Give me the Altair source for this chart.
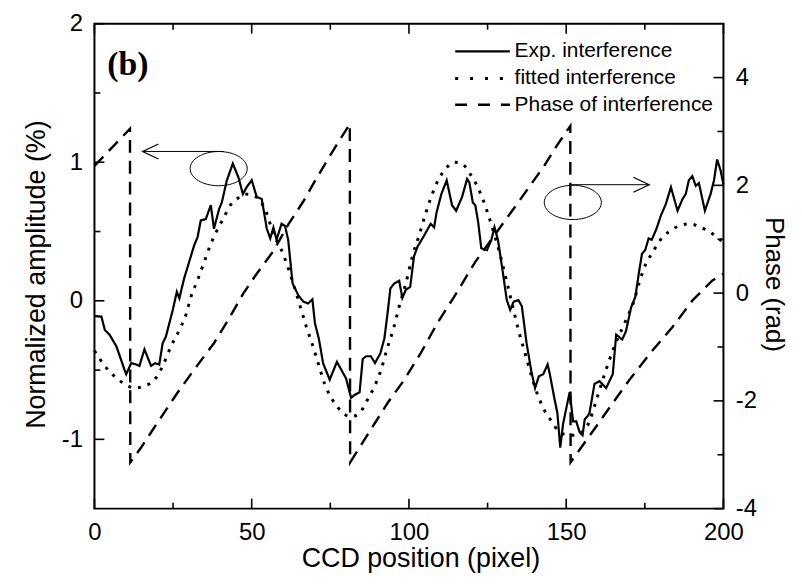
import altair as alt
import pandas as pd

# ---------------- data ----------------
exp_x = [0.0, 2.2, 3.3, 4.8, 7.0, 9.6, 10.1, 11.7, 13.3, 14.3, 15.9, 18.0, 19.3, 20.6,
         21.7, 22.7, 24.9, 26.2, 27.0, 28.5, 30.1, 31.7, 32.8, 33.8, 35.4, 37.0, 38.0,
         39.6, 40.5, 42.1, 44.0, 45.8, 47.2, 48.4, 50.0, 51.6, 53.2, 54.8, 55.9, 56.9,
         57.9, 59.5, 60.6, 61.6, 63.0, 64.8, 66.4, 67.9, 69.3, 70.1, 71.4, 72.7, 74.8,
         77.1, 79.0, 80.0, 81.6, 82.7, 84.3, 85.3, 86.4, 87.9, 89.2, 90.9, 92.2, 93.2,
         94.1, 95.3, 96.9, 97.9, 99.0, 100.4, 101.6, 102.7, 103.5, 104.8, 106.9, 108.0,
         108.8, 110.3, 112.0, 113.7, 115.0, 116.9, 118.5, 119.2, 120.3, 121.1, 122.0,
         123.0, 124.8, 126.2, 127.2, 128.3, 129.6, 131.1, 132.2, 133.3, 134.8, 135.9,
         137.4, 139.0, 140.1, 141.3, 142.7, 144.1, 144.8, 146.2, 147.2, 148.1, 149.0,
         150.4, 151.1, 152.2, 153.2, 154.3, 155.2, 155.9, 156.9, 157.4, 159.0, 160.6,
         162.7, 164.8, 165.9, 167.8, 169.0, 170.6, 172.0, 173.1, 174.1, 175.1, 176.2,
         177.2, 178.7, 180.1, 181.7, 183.3, 185.4, 187.0, 188.0, 189.0, 190.1, 191.2,
         192.2, 194.1, 195.9, 197.0, 198.0, 199.1, 200.0]
exp_y = [-0.11, -0.114, -0.21, -0.245, -0.33, -0.50, -0.53, -0.45, -0.46, -0.47, -0.35,
         -0.47, -0.45, -0.46, -0.305, -0.26, -0.066, 0.065, 0.018, 0.16, 0.28, 0.40, 0.46,
         0.58, 0.59, 0.69, 0.52, 0.66, 0.71, 0.87, 0.99, 0.89, 0.77, 0.82, 0.87, 0.75,
         0.735, 0.52, 0.45, 0.53, 0.44, 0.556, 0.54, 0.44, 0.125, 0.04, -0.006, -0.02,
         0.01, -0.16, -0.28, -0.45, -0.57, -0.44, -0.52, -0.56, -0.70, -0.68, -0.66,
         -0.42, -0.40, -0.40, -0.45, -0.38, -0.27, -0.09, 0.09, 0.125, 0.145, 0.02, 0.08,
         0.10, 0.32, 0.39, 0.42, 0.47, 0.556, 0.53, 0.64, 0.77, 0.87, 0.69, 0.65, 0.75,
         0.88, 0.855, 0.71, 0.69, 0.57, 0.38, 0.365, 0.44, 0.53, 0.44, 0.245, 0.006,
         -0.066, -0.006, 0.006, -0.04, -0.305, -0.52, -0.63, -0.545, -0.53, -0.46, -0.53,
         -0.70, -0.81, -1.06, -0.89, -0.735, -0.66, -0.87, -0.87, -0.95, -0.97, -0.855,
         -0.83, -0.81, -0.60, -0.58, -0.63, -0.53, -0.245, -0.28, -0.22, -0.05, 0.03,
         0.20, 0.34, 0.365, 0.45, 0.44, 0.52, 0.615, 0.70, 0.82, 0.65, 0.735, 0.77, 0.87,
         0.90, 0.83, 0.85, 0.65, 0.77, 0.87, 1.02, 0.94, 0.84]

fit_x = [0.0, 3.3, 6.4, 9.6, 12.7, 15.9, 19.1, 21.7, 24.3, 27.0, 29.1, 30.7, 32.8, 34.9,
         37.0, 39.0, 41.1, 43.2, 45.3, 47.9, 50.6, 52.7, 54.8, 56.9, 59.0, 61.1, 63.2,
         65.3, 67.4, 69.5, 71.4, 73.2, 75.3, 77.4, 79.5, 81.8, 84.3, 86.9, 89.0, 91.1,
         93.0, 95.1, 96.9, 99.0, 101.1, 103.2, 105.3, 107.4, 109.5, 111.6, 114.3, 116.9,
         119.0, 121.1, 123.2, 125.3, 127.4, 129.3, 131.1, 132.9, 134.8, 136.9, 139.0,
         141.1, 143.2, 145.3, 147.5, 149.5, 152.2, 154.8, 157.4, 159.0, 162.2, 165.3,
         169.0, 171.7, 173.2, 175.4, 177.5, 179.6, 182.7, 185.9, 189.0, 192.2, 195.4,
         198.5, 200.0]
fit_y = [-0.36, -0.47, -0.545, -0.60, -0.63, -0.615, -0.57, -0.47, -0.33, -0.21, -0.10,
         0.03, 0.15, 0.28, 0.41, 0.51, 0.60, 0.69, 0.735, 0.77, 0.76, 0.72, 0.63, 0.48,
         0.39, 0.27, 0.125, -0.03, -0.19, -0.33, -0.47, -0.60, -0.70, -0.77, -0.82,
         -0.836, -0.81, -0.71, -0.62, -0.50, -0.35, -0.20, -0.04, 0.125, 0.32, 0.47,
         0.63, 0.77, 0.88, 0.95, 1.00, 0.99, 0.93, 0.855, 0.75, 0.615, 0.46, 0.305,
         0.137, -0.03, -0.21, -0.377, -0.545, -0.69, -0.795, -0.867, -0.94, -0.963,
         -0.97, -0.95, -0.87, -0.76, -0.53, -0.33, -0.14, 0.01, 0.13, 0.27, 0.35, 0.43,
         0.50, 0.54, 0.556, 0.537, 0.50, 0.45, 0.42]

phase_x = [0.0, 11.3, 11.4, 14.9, 20.1, 26.4, 31.7, 38.0, 42.1, 47.4, 51.6, 56.9, 61.6,
           66.4, 70.6, 75.3, 81.2, 81.3, 87.9, 93.2, 98.5, 103.7, 109.0, 114.3, 121.1,
           127.4, 132.7, 138.0, 143.2, 147.5, 151.3, 151.4, 159.6, 164.8, 170.1, 177.5,
           183.8, 190.1, 196.4, 200.0]
phase_y = [2.36, 3.05, -3.14, -2.86, -2.40, -1.85, -1.42, -0.93, -0.54, 0.0, 0.36, 0.78,
           1.27, 1.70, 2.13, 2.59, 3.14, -3.14, -2.53, -2.04, -1.61, -1.12, -0.56,
           -0.075, 0.58, 1.09, 1.52, 1.95, 2.38, 2.78, 3.10, -3.14, -2.47, -2.04, -1.61,
           -1.06, -0.63, -0.14, 0.23, 0.36]

legend_labels = ["Exp. interference", "fitted interference", "Phase of interference"]

x_ticks_major = [0, 50, 100, 150, 200]
x_ticks_minor = [25, 75, 125, 175]
amp_ticks_major = [-1, 0, 1, 2]
amp_ticks_minor = [-0.5, 0.5, 1.5]
ph_ticks_major = [-4, -2, 0, 2, 4]
ph_ticks_minor = [-3, -1, 1, 3]

X_DOM = [0, 200]
AMP_DOM = [-1.5, 2]
PH_DOM = [-4, 5]

W, H = 633, 488
TICK_MAJ, TICK_MIN = 10, 6

# ---------------- frames ----------------
exp_df = pd.DataFrame({"x": exp_x, "y": exp_y})
fit_df = pd.DataFrame({"x": fit_x, "y": fit_y})
ph_df = pd.DataFrame({"x": phase_x, "y": phase_y, "idx": list(range(len(phase_x)))})

leg_df = pd.DataFrame({"label": legend_labels, "x0": [114.7] * 3, "x1": [132.1] * 3,
                       "tx": [133.6] * 3, "y": [1.80, 1.605, 1.415]})
ell_df = pd.DataFrame({"x": [39.5, 152.1], "y": [0.954, 0.71]})
arr_df = pd.DataFrame({"x0": [41.1, 151.1], "x1": [15.3, 176.4], "y": [1.078, 0.838],
                       "dir": ["l", "r"]})
lab_df = pd.DataFrame({"x": [4.1], "y": [1.70], "t": ["(b)"]})

FONT = "Liberation Sans"
xs = alt.Scale(domain=X_DOM, nice=False, zero=False)
amp_s = alt.Scale(domain=AMP_DOM, nice=False, zero=False)
ph_s = alt.Scale(domain=PH_DOM, nice=False, zero=False)
HYPHEN_LABEL = "'' + datum.value"

x_lab_axis = alt.Axis(orient="bottom", values=x_ticks_major, ticks=False, tickSize=0,
                      domain=False, grid=False, labelPadding=12, labelFlush=False,
                      labelFontSize=24, labelFont=FONT, labelColor="black",
                      title="CCD position (pixel)", titleFontSize=27, titleFont=FONT,
                      titleFontWeight="normal", titleColor="black", titlePadding=1,
                      titleX=328)
amp_lab_axis = alt.Axis(orient="left", values=amp_ticks_major, ticks=False, tickSize=0,
                        domain=False, grid=False, labelPadding=12, labelFontSize=24,
                        labelFont=FONT, labelColor="black", labelExpr=HYPHEN_LABEL,
                        title="Normalized amplitude (%)", titleFontSize=27,
                        titleFont=FONT, titleFontWeight="normal", titleColor="black",
                        titlePadding=11, titleY=252)
ph_lab_axis = alt.Axis(orient="right", values=ph_ticks_major, ticks=False, tickSize=0,
                       domain=False, grid=False, labelPadding=12, labelFontSize=24,
                       labelFont=FONT, labelColor="black", labelExpr=HYPHEN_LABEL,
                       title="Phase (rad)", titleFontSize=26, titleFont=FONT,
                       titleFontWeight="normal", titleColor="black", titlePadding=4,
                       titleY=262)

phase_line = alt.Chart(ph_df).mark_line(color="black", strokeWidth=2.4,
                                        strokeDash=[13, 8]).encode(
    x=alt.X("x:Q", scale=xs, axis=None),
    y=alt.Y("y:Q", scale=ph_s, axis=ph_lab_axis),
    order="idx:Q",
)

fit_line = alt.Chart(fit_df).mark_line(color="black", strokeWidth=3, strokeDash=[3, 7],
                                       interpolate="monotone").encode(
    x=alt.X("x:Q", scale=xs, axis=None),
    y=alt.Y("y:Q", scale=amp_s, axis=None),
)

exp_line = alt.Chart(exp_df).mark_line(color="black", strokeWidth=2.2).encode(
    x=alt.X("x:Q", scale=xs, axis=x_lab_axis),
    y=alt.Y("y:Q", scale=amp_s, axis=amp_lab_axis),
)

# ---- inward ticks drawn as rules at the tick values (lengths in data units) ----
amp_per_px = (AMP_DOM[1] - AMP_DOM[0]) / H
x_per_px = (X_DOM[1] - X_DOM[0]) / W

rows_x = []
for v in x_ticks_major:
    rows_x.append((v, AMP_DOM[0], AMP_DOM[0] + TICK_MAJ * amp_per_px))
    rows_x.append((v, AMP_DOM[1], AMP_DOM[1] - TICK_MAJ * amp_per_px))
for v in x_ticks_minor:
    rows_x.append((v, AMP_DOM[0], AMP_DOM[0] + TICK_MIN * amp_per_px))
    rows_x.append((v, AMP_DOM[1], AMP_DOM[1] - TICK_MIN * amp_per_px))
xt_df = pd.DataFrame(rows_x, columns=["v", "a", "b"])

rows_l = [(v, X_DOM[0], X_DOM[0] + TICK_MAJ * x_per_px) for v in amp_ticks_major] + \
         [(v, X_DOM[0], X_DOM[0] + TICK_MIN * x_per_px) for v in amp_ticks_minor]
lt_df = pd.DataFrame(rows_l, columns=["v", "a", "b"])
rows_r = [(v, X_DOM[1], X_DOM[1] - TICK_MAJ * x_per_px) for v in ph_ticks_major] + \
         [(v, X_DOM[1], X_DOM[1] - TICK_MIN * x_per_px) for v in ph_ticks_minor]
rt_df = pd.DataFrame(rows_r, columns=["v", "a", "b"])

x_tick_layer = alt.Chart(xt_df).mark_rule(color="black", strokeWidth=1.6).encode(
    x=alt.X("v:Q", scale=xs, axis=None),
    y=alt.Y("a:Q", scale=amp_s, axis=None),
    y2="b:Q",
)
l_tick_layer = alt.Chart(lt_df).mark_rule(color="black", strokeWidth=1.6).encode(
    x=alt.X("a:Q", scale=xs, axis=None),
    x2="b:Q",
    y=alt.Y("v:Q", scale=amp_s, axis=None),
)
r_tick_layer = alt.Chart(rt_df).mark_rule(color="black", strokeWidth=1.6).encode(
    x=alt.X("a:Q", scale=xs, axis=None),
    x2="b:Q",
    y=alt.Y("v:Q", scale=ph_s, axis=None),
)

ellipse_path = "M-1,0A1,0.6,0,1,1,1,0A1,0.6,0,1,1,-1,0Z"
ellipses = alt.Chart(ell_df).mark_point(shape=ellipse_path, size=3300, filled=False,
                                        color="black", strokeWidth=1,
                                        opacity=1).encode(
    x=alt.X("x:Q", scale=xs, axis=None),
    y=alt.Y("y:Q", scale=amp_s, axis=None),
)
arrows = alt.Chart(arr_df).mark_rule(color="black", strokeWidth=1).encode(
    x=alt.X("x0:Q", scale=xs, axis=None),
    x2="x1:Q",
    y=alt.Y("y:Q", scale=amp_s, axis=None),
)
heads = alt.Chart(arr_df).mark_point(size=1024, filled=False, color="black",
                                     strokeWidth=1.2, opacity=1).encode(
    x=alt.X("x1:Q", scale=xs, axis=None),
    y=alt.Y("y:Q", scale=amp_s, axis=None),
    shape=alt.Shape("dir:N", scale=alt.Scale(domain=["l", "r"],
                                             range=["M1,-0.47L0,0L1,0.47",
                                                    "M-1,-0.47L0,0L-1,0.47"]),
                    legend=None),
)
panel_label = alt.Chart(lab_df).mark_text(font="Liberation Serif", fontWeight="bold",
                                          fontSize=34, align="left", baseline="middle",
                                          color="black").encode(
    x=alt.X("x:Q", scale=xs, axis=None),
    y=alt.Y("y:Q", scale=amp_s, axis=None),
    text="t:N",
)

leg_layers = []
dashes = [[1, 0], [3, 12], [12, 11]]
widths = [2.2, 3, 2.4]
for i in range(3):
    sub = leg_df.iloc[[i]]
    leg_layers.append(alt.Chart(sub).mark_rule(color="black", strokeWidth=widths[i],
                                                strokeDash=dashes[i]).encode(
        x=alt.X("x0:Q", scale=xs, axis=None),
        x2="x1:Q",
        y=alt.Y("y:Q", scale=amp_s, axis=None),
    ))
leg_text = alt.Chart(leg_df).mark_text(font=FONT, fontSize=21, align="left",
                                       baseline="middle", color="black").encode(
    x=alt.X("tx:Q", scale=xs, axis=None),
    y=alt.Y("y:Q", scale=amp_s, axis=None),
    text="label:N",
)

chart = alt.layer(
    exp_line, phase_line, fit_line, x_tick_layer, l_tick_layer, r_tick_layer,
    ellipses, arrows, heads, panel_label, *leg_layers, leg_text
).resolve_scale(y="independent").resolve_axis(
    x="independent", y="independent"
).properties(
    width=W, height=H,
    padding={"left": 87, "top": 14, "right": 71, "bottom": 66},
    autosize=alt.AutoSizeParams(type="none"),
    background="white",
).configure_view(stroke="black", strokeWidth=2)

chart.save("out.html", embed_options={"renderer": "svg", "actions": False})
